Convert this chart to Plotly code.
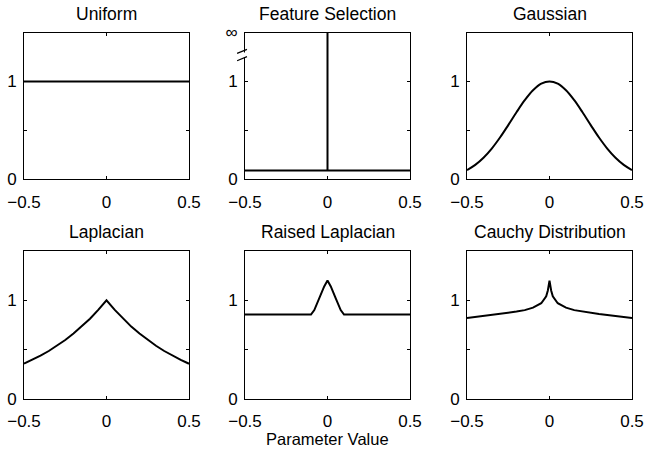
import plotly.graph_objects as go

titles = ["Uniform", "Feature Selection", "Gaussian", "Laplacian", "Raised Laplacian", "Cauchy Distribution"]

x21 = [-0.5, -0.45, -0.4, -0.35, -0.3, -0.25, -0.2, -0.15, -0.1, -0.05, 0.0,
       0.05, 0.1, 0.15, 0.2, 0.25, 0.3, 0.35, 0.4, 0.45, 0.5]

uniform_x = [-0.5, 0.5]
uniform_y = [1.0, 1.0]

fs_floor_x = [-0.5, 0.5]
fs_floor_y = [0.09, 0.09]
fs_spike_x = [0.0, 0.0]
fs_spike_y = [0.09, 1.5]

gauss_y = [0.094, 0.147, 0.22, 0.314, 0.427, 0.554, 0.685, 0.808, 0.91, 0.977, 1.0,
           0.977, 0.91, 0.808, 0.685, 0.554, 0.427, 0.314, 0.22, 0.147, 0.094]

laplace_y = [0.356, 0.395, 0.438, 0.485, 0.538, 0.597, 0.662, 0.733, 0.813, 0.902, 1.0,
             0.902, 0.813, 0.733, 0.662, 0.597, 0.538, 0.485, 0.438, 0.395, 0.356]

raised_x = [-0.5, -0.1, -0.08, -0.05, -0.02, 0.0, 0.02, 0.05, 0.08, 0.1, 0.5]
raised_y = [0.855, 0.855, 0.9, 1.02, 1.14, 1.2, 1.14, 1.02, 0.9, 0.855, 0.855]

cauchy_x = [-0.5, -0.45, -0.4, -0.35, -0.3, -0.25, -0.2, -0.15, -0.1, -0.05, -0.02, -0.01, 0.0,
            0.01, 0.02, 0.05, 0.1, 0.15, 0.2, 0.25, 0.3, 0.35, 0.4, 0.45, 0.5]
cauchy_y = [0.82, 0.83, 0.84, 0.85, 0.86, 0.87, 0.885, 0.9, 0.925, 0.97, 1.04, 1.1, 1.2,
            1.1, 1.04, 0.97, 0.925, 0.9, 0.885, 0.87, 0.86, 0.85, 0.84, 0.83, 0.82]

x_ticks = [-0.5, 0, 0.5]
x_ticktext = ["\u22120.5", "0", "0.5"]
y_ticks = [0, 0.5, 1]
y_ticktext = ["0", "", "1"]

W, H = 646, 450
xdom_px = [(24, 189), (245, 410), (467, 632)]
ydom_px = [(32.5, 179.3), (251, 398.8)]

FAM = "Liberation Sans, Arial, sans-serif"
tickfont = dict(family=FAM, size=17, color="black")
titlefont = dict(family=FAM, size=17.5, color="black")
labelfont = dict(family=FAM, size=16.5, color="black")

fig = go.Figure()

series = [
    [(uniform_x, uniform_y, "linear")],
    [(fs_floor_x, fs_floor_y, "linear"), (fs_spike_x, fs_spike_y, "linear")],
    [(x21, gauss_y, "spline")],
    [(x21, laplace_y, "linear")],
    [(raised_x, raised_y, "linear")],
    [(cauchy_x, cauchy_y, "linear")],
]

layout = {}
annotations = []
for i in range(6):
    r, c = divmod(i, 3)
    n = i + 1
    xa = "x" if n == 1 else f"x{n}"
    ya = "y" if n == 1 else f"y{n}"
    for sx, sy, shp in series[i]:
        fig.add_trace(go.Scatter(x=sx, y=sy, mode="lines",
                                 line=dict(color="black", width=2, shape=shp),
                                 xaxis=xa, yaxis=ya, showlegend=False, hoverinfo="skip"))
    x0, x1 = xdom_px[c]
    y0, y1 = ydom_px[r]
    yt = list(y_ticks)
    ytt = list(y_ticktext)
    if i == 1:
        yt = yt + [1.5]
        ytt = ytt + ["\u221e"]
    common = dict(showline=True, linecolor="black", linewidth=1, mirror="ticks",
                  ticks="inside", ticklen=3, tickcolor="black", showgrid=False,
                  zeroline=False, tickfont=tickfont, automargin=False)
    layout["xaxis" if n == 1 else f"xaxis{n}"] = dict(
        domain=[x0 / W, x1 / W], range=[-0.5, 0.5], anchor=ya,
        tickvals=x_ticks, ticktext=x_ticktext, ticklabelstandoff=7, **common)
    layout["yaxis" if n == 1 else f"yaxis{n}"] = dict(
        domain=[1 - y1 / H, 1 - y0 / H], range=[0, 1.5], anchor=xa,
        tickvals=yt, ticktext=ytt, ticklabelstandoff=3, **common)
    annotations.append(dict(text=titles[i], x=(x0 + x1) / 2 / W, y=1 - (y0 - 19) / H,
                            xref="paper", yref="paper", showarrow=False, font=titlefont,
                            xanchor="center", yanchor="middle"))

annotations.append(dict(text="Parameter Value", x=(xdom_px[1][0] + xdom_px[1][1]) / 2 / W,
                        y=1 - 438.5 / H, xref="paper", yref="paper", showarrow=False,
                        font=labelfont, xanchor="center", yanchor="middle"))

# axis break on the Feature Selection y axis
shapes = [dict(type="line", xref="x2 domain", yref="y2", x0=0, x1=0, y0=1.25, y1=1.295,
               line=dict(color="white", width=2))]
for yb in [1.212, 1.287]:
    shapes.append(dict(type="line", xref="x2 domain", yref="y2",
                       x0=-0.048, x1=0.012, y0=yb, y1=yb + 0.041,
                       line=dict(color="black", width=1.2)))

fig.update_layout(width=W, height=H, margin=dict(l=0, r=0, t=0, b=0, autoexpand=False),
                  paper_bgcolor="white", plot_bgcolor="white",
                  annotations=annotations, shapes=shapes, font=tickfont, **layout)

fig.write_html("out.html")
